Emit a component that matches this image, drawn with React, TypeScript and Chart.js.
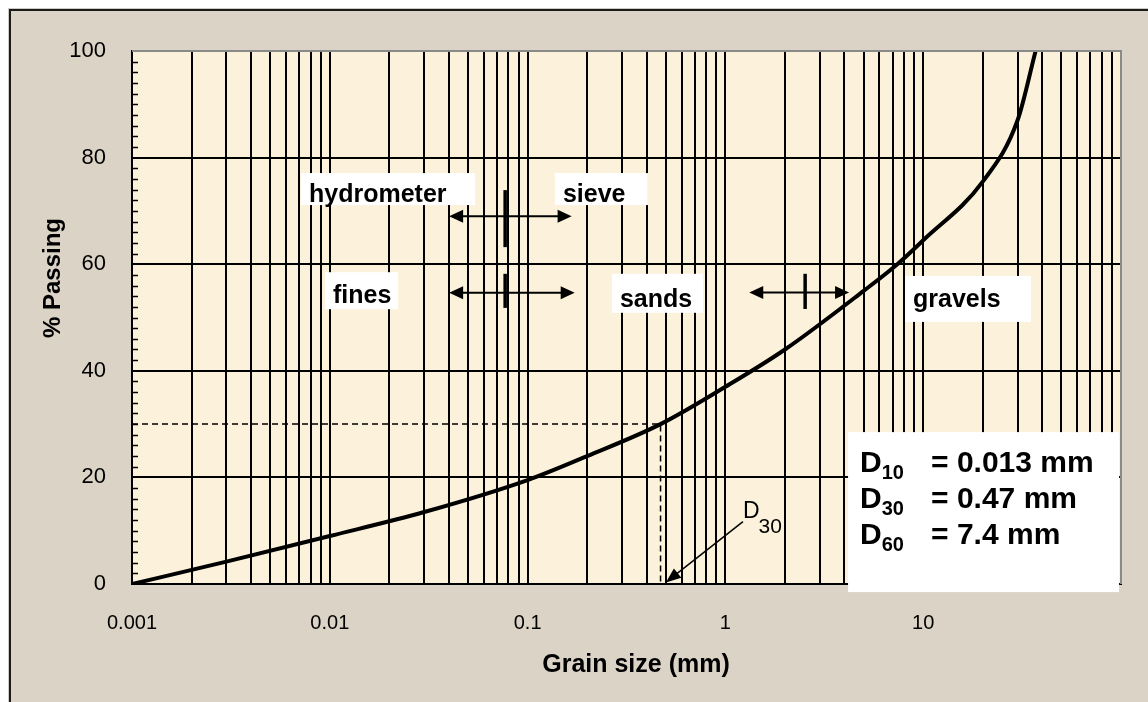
import React, { useEffect, useRef } from "react";
import { Chart, registerables } from "chart.js";

Chart.register(...registerables);

// ---- data ----
const grainSizes = [0.001, 0.003, 0.01, 0.03, 0.1, 0.2, 0.47, 1, 2, 5, 7.4, 10, 20, 30, 37];
const percentPassing = [0, 4.2, 9, 13.5, 19.5, 24, 30, 37, 44, 55, 60, 64.5, 75.5, 87, 100];

const xDecades = [0.001, 0.01, 0.1, 1, 10, 100];
const xDecadeLabels = ["0.001", "0.01", "0.1", "1", "10", ""];
const gridMultipliers = [1, 2, 3, 4, 5, 6, 7, 8, 9];
const yMin = 0;
const yMax = 100;
const yStep = 20;
const yMinorStep = 2;

const dNames = ["10", "30", "60"];
const dValues = ["= 0.013 mm", "= 0.47 mm", "= 7.4 mm"];
const d30Size = 0.47;
const d30Percent = 30;

const xTitle = "Grain size (mm)";
const yTitle = "% Passing";

const FONT = '"Liberation Sans", Arial, Helvetica, sans-serif';

function buildXTicks() {
  const out: number[] = [];
  for (let i = 0; i < xDecades.length - 1; i++) {
    for (const m of gridMultipliers) out.push(parseFloat((m * xDecades[i]).toPrecision(6)));
  }
  out.push(xDecades[xDecades.length - 1]);
  return out;
}

function labelFor(v: number) {
  for (let i = 0; i < xDecades.length; i++) {
    if (Math.abs(v / xDecades[i] - 1) < 1e-6) return xDecadeLabels[i];
  }
  return "";
}

const bgPlugin = {
  id: "bgPlugin",
  beforeDraw(chart: any) {
    const { ctx, chartArea: a, width, height } = chart;
    ctx.save();
    ctx.fillStyle = "#ffffff";
    ctx.fillRect(0, 0, width, height);
    ctx.fillStyle = "#cfcac2";
    ctx.fillRect(8, 8, width - 8, height - 8);
    ctx.fillStyle = "#dad3c6";
    ctx.fillRect(10, 11, width - 10, height - 11);
    ctx.strokeStyle = "#1a1a1a";
    ctx.lineWidth = 2;
    ctx.beginPath();
    ctx.moveTo(10, height);
    ctx.lineTo(10, 10);
    ctx.lineTo(width, 10);
    ctx.stroke();
    ctx.fillStyle = "#fcf2dc";
    ctx.fillRect(a.left, a.top, a.right - a.left, a.bottom - a.top);
    ctx.restore();
  },
  beforeDatasetsDraw(chart: any) {
    const { ctx, chartArea: a, scales } = chart;
    const x = scales.x, y = scales.y;
    ctx.save();
    // D30 construction lines
    ctx.strokeStyle = "#000";
    ctx.lineWidth = 1.5;
    ctx.setLineDash([6, 4]);
    const px = x.getPixelForValue(d30Size);
    const py = y.getPixelForValue(d30Percent);
    ctx.beginPath();
    ctx.moveTo(a.left, py);
    ctx.lineTo(px, py);
    ctx.lineTo(px, a.bottom);
    ctx.stroke();
    ctx.setLineDash([]);
    ctx.restore();
  },
  afterDraw(chart: any) {
    const { ctx, chartArea: a, scales } = chart;
    const x = scales.x, y = scales.y;
    const X = (v: number) => x.getPixelForValue(v);
    const Y = (v: number) => y.getPixelForValue(v);
    ctx.save();

    // minor ticks on the y axis (inside)
    ctx.strokeStyle = "#000";
    ctx.lineWidth = 1.5;
    for (let v = yMin + yMinorStep; v < yMax; v += yMinorStep) {
      if (v % yStep === 0) continue;
      const yy = Math.round(Y(v)) + 0.5;
      ctx.beginPath();
      ctx.moveTo(a.left, yy);
      ctx.lineTo(a.left + 6, yy);
      ctx.stroke();
    }

    // grey plot border top / right
    ctx.strokeStyle = "#8a8a8a";
    ctx.lineWidth = 2;
    ctx.beginPath();
    ctx.moveTo(a.left, a.top);
    ctx.lineTo(a.right, a.top);
    ctx.lineTo(a.right, a.bottom);
    ctx.stroke();

    // label boxes
    const box = (xv: number, yv: number, w: number, h: number, text: string, base: number) => {
      const bx = X(xv), by = Y(yv);
      ctx.fillStyle = "#ffffff";
      ctx.fillRect(bx, by, w, h);
      ctx.fillStyle = "#000";
      ctx.font = `bold 25px ${FONT}`;
      ctx.textAlign = "left";
      ctx.textBaseline = "alphabetic";
      ctx.fillText(text, bx + 8, by + base);
    };
    box(0.00715, 77.1, 174, 32, "hydrometer", 29);
    box(0.1375, 77.1, 93, 32, "sieve", 29);
    box(0.00946, 58.5, 73, 37, "fines", 31);
    box(0.267, 58.2, 91, 39, "sands", 33);
    box(8.09, 57.8, 126, 46, "gravels", 31);

    // double arrows with separator bars
    const head = (tx: number, ty: number, dir: number, len: number, hw: number) => {
      ctx.beginPath();
      ctx.moveTo(tx, ty);
      ctx.lineTo(tx - dir * len, ty - hw);
      ctx.lineTo(tx - dir * len, ty + hw);
      ctx.closePath();
      ctx.fill();
    };
    const dArrow = (x1: number, x2: number, yv: number, bar: number, b1: number, b2: number) => {
      const p1 = X(x1), p2 = X(x2), yy = Y(yv);
      ctx.strokeStyle = "#000";
      ctx.fillStyle = "#000";
      ctx.lineWidth = 2;
      ctx.beginPath();
      ctx.moveTo(p1 + 8, yy);
      ctx.lineTo(p2 - 8, yy);
      ctx.stroke();
      head(p1, yy, -1, 14, 6.5);
      head(p2, yy, 1, 14, 6.5);
      ctx.lineWidth = 3.5;
      ctx.beginPath();
      ctx.moveTo(X(bar), Y(b1));
      ctx.lineTo(X(bar), Y(b2));
      ctx.stroke();
    };
    dArrow(0.0401, 0.167, 69.0, 0.077, 63.2, 73.9);
    dArrow(0.0401, 0.173, 54.65, 0.077, 51.8, 58.2);
    dArrow(1.32, 4.22, 54.7, 2.53, 51.6, 58.2);

    // D30 pointer
    const sx = X(1.227), sy = Y(11.7);
    const tx = X(0.5), ty = Y(0.3);
    const ang = Math.atan2(ty - sy, tx - sx);
    ctx.strokeStyle = "#000";
    ctx.fillStyle = "#000";
    ctx.lineWidth = 1.5;
    ctx.beginPath();
    ctx.moveTo(sx, sy);
    ctx.lineTo(tx - 10 * Math.cos(ang), ty - 10 * Math.sin(ang));
    ctx.stroke();
    ctx.beginPath();
    ctx.moveTo(tx, ty);
    ctx.lineTo(tx - 15 * Math.cos(ang) + 6 * Math.sin(ang), ty - 15 * Math.sin(ang) - 6 * Math.cos(ang));
    ctx.lineTo(tx - 15 * Math.cos(ang) - 6 * Math.sin(ang), ty - 15 * Math.sin(ang) + 6 * Math.cos(ang));
    ctx.closePath();
    ctx.fill();
    ctx.font = `23px ${FONT}`;
    ctx.textAlign = "left";
    ctx.textBaseline = "alphabetic";
    const lx = X(1.227), ly = Y(12.4);
    ctx.fillText("D", lx, ly);
    const dw = ctx.measureText("D").width;
    ctx.font = `21px ${FONT}`;
    ctx.fillText(dNames[1], lx + dw - 1, ly + 15);

    // D values box
    const bx = X(4.17), by = Y(28.5);
    ctx.fillStyle = "#ffffff";
    ctx.fillRect(bx, by, 271, 160);
    ctx.fillStyle = "#000";
    for (let i = 0; i < dNames.length; i++) {
      const base = by + 40 + i * 36;
      ctx.font = `bold 30px ${FONT}`;
      ctx.fillText("D", bx + 12, base);
      const w = ctx.measureText("D").width;
      ctx.font = `bold 20px ${FONT}`;
      ctx.fillText(dNames[i], bx + 12 + w, base + 7);
      ctx.font = `bold 30px ${FONT}`;
      ctx.fillText(dValues[i], bx + 83, base);
    }

    // axis titles
    ctx.fillStyle = "#000";
    ctx.font = `bold 25px ${FONT}`;
    ctx.textAlign = "center";
    ctx.textBaseline = "middle";
    ctx.fillText(xTitle, 636, 665);
    ctx.font = `bold 24px ${FONT}`;
    ctx.save();
    ctx.translate(53, 278);
    ctx.rotate(-Math.PI / 2);
    ctx.fillText(yTitle, 0, 0);
    ctx.restore();

    ctx.restore();
  },
};

export default function App() {
  const ref = useRef<HTMLCanvasElement | null>(null);
  useEffect(() => {
    if (!ref.current) return;
    const tickValues = buildXTicks();
    const chart = new Chart(ref.current, {
      type: "line",
      data: {
        datasets: [
          {
            data: grainSizes.map((g, i) => ({ x: g, y: percentPassing[i] })),
            borderColor: "#000",
            borderWidth: 4,
            pointRadius: 0,
            fill: false,
            cubicInterpolationMode: "monotone",
          },
        ],
      },
      options: {
        responsive: false,
        animation: false,
        devicePixelRatio: 1,
        layout: { padding: { left: 0, top: 51, right: 27, bottom: 0 } },
        plugins: { legend: { display: false }, tooltip: { enabled: false } },
        scales: {
          x: {
            type: "logarithmic",
            min: xDecades[0],
            max: xDecades[xDecades.length - 1],
            afterBuildTicks: (scale: any) => {
              scale.ticks = tickValues.map((v) => ({ value: v }));
            },
            afterFit: (scale: any) => {
              scale.height = 118;
            },
            ticks: {
              autoSkip: false,
              maxRotation: 0,
              minRotation: 0,
              padding: 27,
              color: "#000",
              font: { family: FONT, size: 20 },
              callback: (v: any) => labelFor(Number(v)),
            },
            grid: { color: "#000", lineWidth: 2, drawTicks: false },
            border: { color: "#000", width: 2 },
          },
          y: {
            min: yMin,
            max: yMax,
            afterFit: (scale: any) => {
              scale.width = 132;
            },
            ticks: {
              stepSize: yStep,
              padding: 26,
              color: "#000",
              font: { family: FONT, size: 22 },
            },
            grid: { color: "#000", lineWidth: 2, drawTicks: false },
            border: { color: "#000", width: 2 },
          },
        },
      },
      plugins: [bgPlugin],
    } as any);
    return () => chart.destroy();
  }, []);
  return (
    <div>
      <canvas ref={ref} width={1148} height={702} style={{ position: "fixed", left: 0, top: 0 }} />
    </div>
  );
}
